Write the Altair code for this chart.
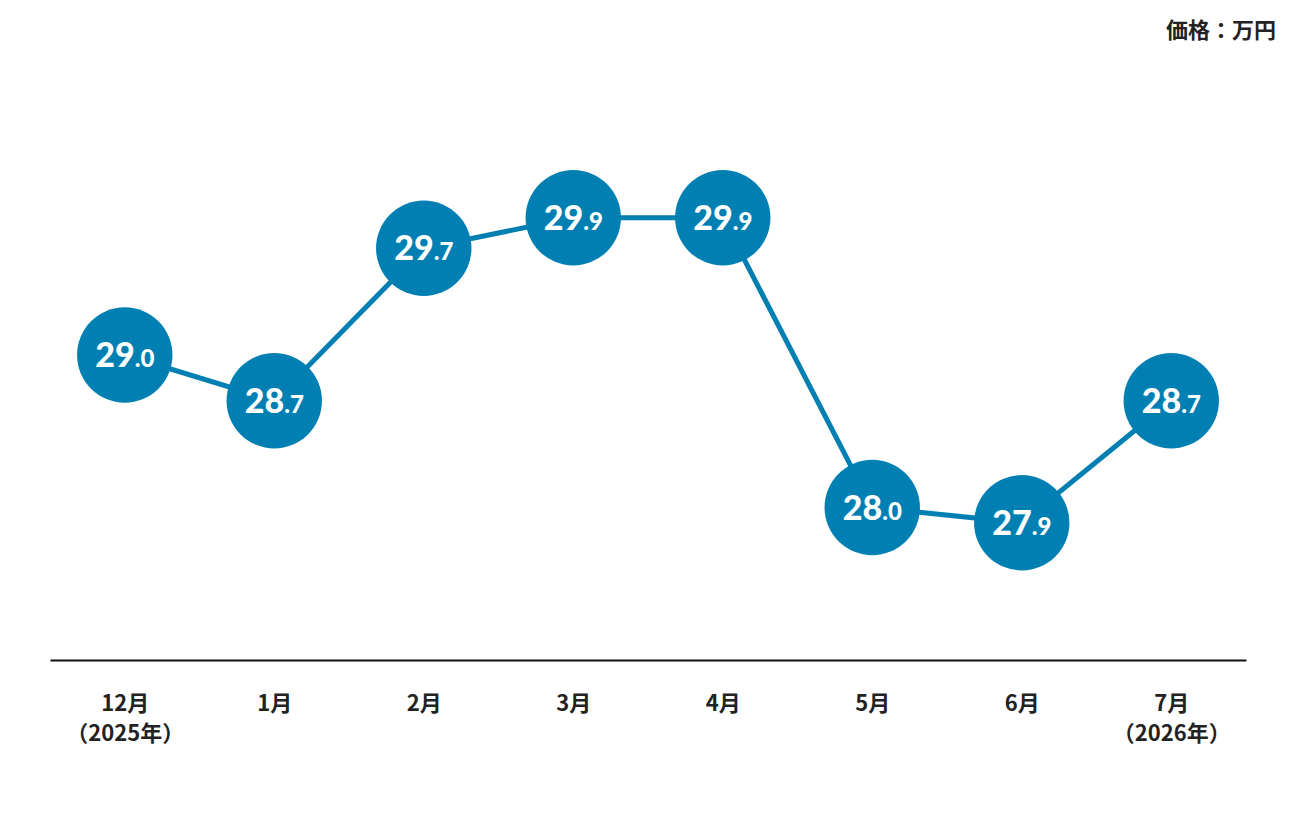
import altair as alt
import pandas as pd

months = ["12月|（2025年）", "1月", "2月", "3月", "4月", "5月", "6月", "7月|（2026年）"]
prices = [29.0, 28.7, 29.7, 29.9, 29.9, 28.0, 27.9, 28.7]
unit_label = "価格：万円"

df = pd.DataFrame({"month": months, "price": prices})
df["order"] = range(len(df))
df["int_part"] = [f"{p:.1f}".split(".")[0] for p in prices]
df["dec_part"] = ["." + f"{p:.1f}".split(".")[1] for p in prices]

BLUE = "#007FB2"

x = alt.X(
    "month:O",
    sort=months,
    scale=alt.Scale(type="point", padding=0.5),
    axis=alt.Axis(
        title=None,
        labelAngle=0,
        labelExpr="split(datum.label, '|')",
        labelFont="Noto Sans CJK JP",
        labelFontWeight="bold",
        labelFontSize=22,
        labelColor="#222222",
        labelLineHeight=30,
        labelPadding=33,
        ticks=False,
        tickSize=0,
        domainColor="#111111",
        domainWidth=2,
        grid=False,
    ),
)
y = alt.Y("price:Q", scale=alt.Scale(domain=[27, 31], zero=False, nice=False), axis=None)

base = alt.Chart(df).encode(x=x, y=y)

line = base.mark_line(color=BLUE, strokeWidth=5).encode(order="order:Q")
circles = base.mark_circle(color=BLUE, opacity=1, size=9100)
int_txt = base.mark_text(
    align="right", baseline="alphabetic", dx=10, dy=12,
    font="Lato", fontWeight=900, fontSize=34, color="white",
).encode(text="int_part:N")
dec_txt = base.mark_text(
    align="left", baseline="alphabetic", dx=10, dy=12,
    font="Lato", fontWeight=900, fontSize=24, color="white",
).encode(text="dec_part:N")

unit = alt.Chart(pd.DataFrame({"t": [unit_label]})).mark_text(
    align="right", baseline="middle", font="Noto Sans CJK JP", fontWeight="bold",
    fontSize=22, color="#222222",
).encode(text="t:N", x=alt.value(1226), y=alt.value(-19))

chart = (
    alt.layer(line, circles, int_txt, dec_txt, unit)
    .properties(
        width=1196,
        height=610,
        autosize=alt.AutoSizeParams(type="none"),
        padding={"left": 42, "top": 42, "right": 36, "bottom": 140},
    )
    .configure_view(stroke=None)
)

chart.save("out.html", embed_options={"renderer": "svg", "actions": False})
